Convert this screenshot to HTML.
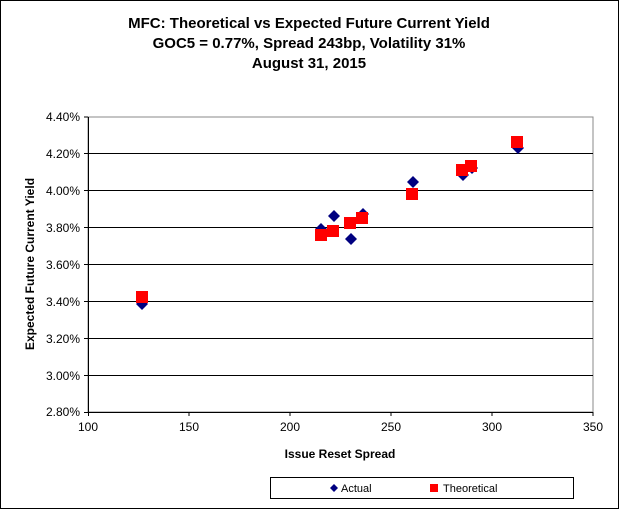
<!DOCTYPE html>
<html><head><style>
body{margin:0;background:#fff;}
svg text{font-family:"Liberation Sans",Arial,sans-serif;}
</style></head><body>
<svg width="619" height="509" xmlns="http://www.w3.org/2000/svg">
<rect x="0.5" y="0.5" width="618" height="508" fill="#fff" stroke="#000"/>
<g font-weight="bold" font-size="15" text-anchor="middle">
<text x="309" y="28">MFC: Theoretical vs Expected Future Current Yield</text>
<text x="309" y="48">GOC5 = 0.77%, Spread 243bp, Volatility 31%</text>
<text x="309" y="68">August 31, 2015</text>
</g>
<rect x="88" y="117" width="505" height="295" fill="#fff" stroke="#888"/>
<g stroke="#000" stroke-width="1">
<line x1="88" y1="117" x2="593" y2="117" stroke="#888"/>
<line x1="88" y1="153.5" x2="593" y2="153.5"/>
<line x1="88" y1="190.5" x2="593" y2="190.5"/>
<line x1="88" y1="227.5" x2="593" y2="227.5"/>
<line x1="88" y1="264.5" x2="593" y2="264.5"/>
<line x1="88" y1="301.5" x2="593" y2="301.5"/>
<line x1="88" y1="338.5" x2="593" y2="338.5"/>
<line x1="88" y1="375.5" x2="593" y2="375.5"/>
<line x1="88.5" y1="117" x2="88.5" y2="416"/>
<line x1="84" y1="412.5" x2="593" y2="412.5"/>
<line x1="84" y1="117" x2="88" y2="117"/><line x1="84" y1="153.5" x2="88" y2="153.5"/><line x1="84" y1="190.5" x2="88" y2="190.5"/><line x1="84" y1="227.5" x2="88" y2="227.5"/><line x1="84" y1="264.5" x2="88" y2="264.5"/><line x1="84" y1="301.5" x2="88" y2="301.5"/><line x1="84" y1="338.5" x2="88" y2="338.5"/><line x1="84" y1="375.5" x2="88" y2="375.5"/>
<line x1="189" y1="412" x2="189" y2="416"/><line x1="290" y1="412" x2="290" y2="416"/><line x1="391" y1="412" x2="391" y2="416"/><line x1="492" y1="412" x2="492" y2="416"/><line x1="593" y1="412" x2="593" y2="416"/>
</g>
<g font-size="12" text-anchor="end">
<text x="80" y="121">4.40%</text><text x="80" y="158">4.20%</text><text x="80" y="195">4.00%</text><text x="80" y="232">3.80%</text><text x="80" y="269">3.60%</text><text x="80" y="306">3.40%</text><text x="80" y="343">3.20%</text><text x="80" y="380">3.00%</text><text x="80" y="416">2.80%</text>
</g>
<g font-size="12" text-anchor="middle">
<text x="88" y="431">100</text><text x="189" y="431">150</text><text x="290" y="431">200</text><text x="391" y="431">250</text><text x="492" y="431">300</text><text x="593" y="431">350</text>
</g>
<text x="340" y="458" font-size="12" font-weight="bold" text-anchor="middle">Issue Reset Spread</text>
<text transform="translate(34,264) rotate(-90)" font-size="12" font-weight="bold" text-anchor="middle">Expected Future Current Yield</text>
<g fill="#000080">
<path d="M142 298l6 6-6 6-6-6z"/><path d="M321 223l6 6-6 6-6-6z"/><path d="M334 210l6 6-6 6-6-6z"/><path d="M351 233l6 6-6 6-6-6z"/><path d="M363 208l6 6-6 6-6-6z"/><path d="M413 176l6 6-6 6-6-6z"/><path d="M463 169l6 6-6 6-6-6z"/><path d="M472 162l6 6-6 6-6-6z"/><path d="M518 142l6 6-6 6-6-6z"/>
</g>
<g fill="#ff0000">
<rect x="136" y="291" width="12" height="12"/><rect x="315" y="229" width="12" height="12"/><rect x="327" y="225" width="12" height="12"/><rect x="344" y="217" width="12" height="12"/><rect x="356" y="212" width="12" height="12"/><rect x="406" y="188" width="12" height="12"/><rect x="456" y="164" width="12" height="12"/><rect x="465" y="160" width="12" height="12"/><rect x="511" y="136" width="12" height="12"/>
</g>
<rect x="270.5" y="477.5" width="303" height="21" fill="#fff" stroke="#000"/>
<path d="M334 484l4 4-4 4-4-4z" fill="#000080"/>
<text x="341" y="492" font-size="11">Actual</text>
<rect x="430" y="484" width="8" height="8" fill="#ff0000"/>
<text x="443" y="492" font-size="11">Theoretical</text>
</svg>
</body></html>
